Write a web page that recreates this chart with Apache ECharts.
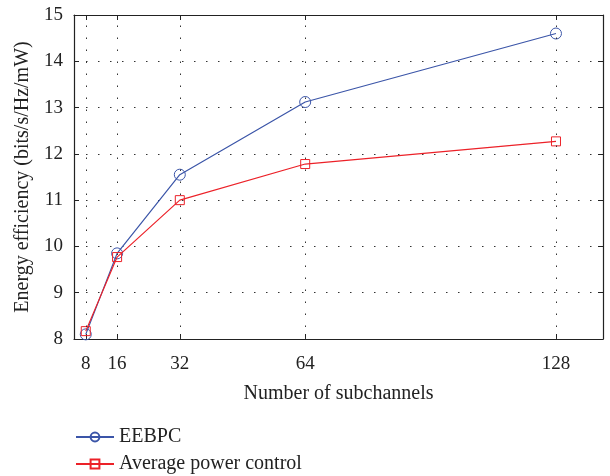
<!DOCTYPE html>
<html>
<head>
<meta charset="utf-8">
<script src="https://cdn.jsdelivr.net/npm/echarts@6/dist/echarts.min.js"></script>
<style>
html, body { margin: 0; padding: 0; background: #fff; }
#main { width: 610px; height: 476px; }
</style>
</head>
<body>
<div id="main"></div>
<script>
var subchannels = [8, 16, 32, 64, 128];
var eebpc = [8.1, 9.85, 11.55, 13.12, 14.6];
var avgPower = [8.17, 9.77, 11.0, 11.78, 12.27];

var fontFamily = '"Liberation Serif", "DejaVu Serif", serif';
var blue = '#3b55a8';
var red = '#ec2128';
var dotted = { color: '#333', width: 1, type: [1.5, 10.5] };
var textStyle = { fontFamily: fontFamily, fontSize: 20, color: '#222' };

function pairs (xs, ys) {
	return xs.map(function (x, i) { return [x, ys[i]]; });
}

var chart = echarts.init(document.getElementById('main'));
var option = {
	animation: false,
	grid: { left: 74, right: 7, top: 15, bottom: 137 },
	legend: [
		{
			left: 70, top: 422, itemWidth: 38, itemHeight: 11,
			textStyle: textStyle, data: ['EEBPC']
		},
		{
			left: 70, top: 449, itemWidth: 38, itemHeight: 11,
			textStyle: textStyle, data: ['Average power control']
		}
	],
	xAxis: [
		{
			type: 'value',
			min: 5,
			max: 140,
			name: 'Number of subchannels',
			nameLocation: 'middle',
			nameGap: 45,
			nameTextStyle: textStyle,
			axisLine: { lineStyle: { color: '#222', width: 1.2 } },
			axisTick: { inside: true, length: 5, customValues: subchannels, lineStyle: { color: '#222' } },
			axisLabel: { customValues: subchannels, fontFamily: fontFamily, fontSize: 19, color: '#222', margin: 16 },
			splitLine: { show: false }
		},
		{
			type: 'value',
			position: 'top',
			min: 5,
			max: 140,
			axisLine: { show: true, lineStyle: { color: '#222', width: 1.2 } },
			axisTick: { inside: true, length: 5, customValues: subchannels, lineStyle: { color: '#222' } },
			axisLabel: { show: false },
			splitLine: { show: false }
		}
	],
	yAxis: [
		{
			type: 'value',
			min: 8,
			max: 15,
			interval: 1,
			name: 'Energy efficiency (bits/s/Hz/mW)',
			nameLocation: 'middle',
			nameGap: 41,
			nameTextStyle: textStyle,
			axisLine: { show: true, lineStyle: { color: '#222', width: 1.2 } },
			axisTick: { show: true, inside: true, length: 5, lineStyle: { color: '#222' } },
			axisLabel: { fontFamily: fontFamily, fontSize: 19, color: '#222', margin: 11 },
			splitLine: { show: true, lineStyle: dotted }
		},
		{
			type: 'value',
			position: 'right',
			min: 8,
			max: 15,
			interval: 1,
			axisLine: { show: true, lineStyle: { color: '#222', width: 1.2 } },
			axisTick: { show: true, inside: true, length: 5, lineStyle: { color: '#222' } },
			axisLabel: { show: false },
			splitLine: { show: false }
		}
	],
	series: [
		{
			name: 'EEBPC',
			type: 'line',
			data: pairs(subchannels, eebpc),
			symbol: 'circle',
			symbolSize: 11,
			lineStyle: { color: blue, width: 1.2 },
			itemStyle: { color: 'rgba(255,255,255,0)', borderColor: blue, borderWidth: 1 },
			z: 3,
			markLine: {
				silent: true,
				symbol: 'none',
				label: { show: false },
				lineStyle: dotted,
				data: subchannels.map(function (v) { return { xAxis: v }; })
			}
		},
		{
			name: 'Average power control',
			type: 'line',
			data: pairs(subchannels, avgPower),
			symbol: 'rect',
			symbolSize: 9,
			lineStyle: { color: red, width: 1.2 },
			itemStyle: { color: 'rgba(255,255,255,0)', borderColor: red, borderWidth: 1 },
			z: 4
		}
	]
};
chart.setOption(option);
</script>
</body>
</html>
